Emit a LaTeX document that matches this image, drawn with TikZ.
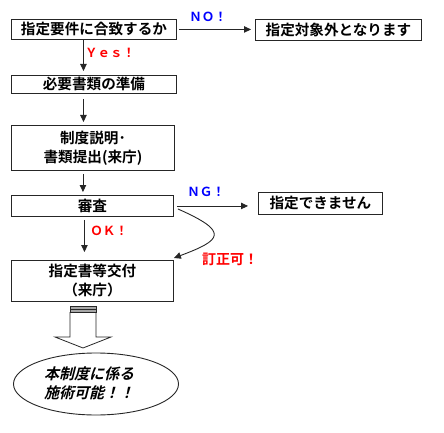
\documentclass[tikz,border=0pt]{standalone}
\usepackage{fontspec}
\setmainfont{Noto Sans CJK JP}[BoldFont={Noto Sans CJK JP Bold}]
\newfontfamily\jpit{Noto Sans CJK JP Bold}[FakeSlant=0.25]
\usetikzlibrary{arrows.meta,shapes.geometric}
\definecolor{lblue}{RGB}{0,0,255}
\definecolor{lred}{RGB}{255,0,0}
\tikzset{
  box/.style={draw=black!85, line width=0.9pt, inner sep=0pt, anchor=north west,
    font=\fontsize{14.6}{19}\selectfont\bfseries, align=center},
  arr/.style={draw=black!85, line width=0.9pt, -{Triangle[length=7pt,width=6.5pt]}},
  lblb/.style={text=lblue, font=\fontsize{12.5}{14}\selectfont\bfseries},
  lblr/.style={text=lred, font=\fontsize{12.5}{14}\selectfont\bfseries},
  lblj/.style={text=lred, font=\fontsize{14}{16}\selectfont\bfseries},
}
\begin{document}
\begin{tikzpicture}[x=1pt,y=-1pt]
\useasboundingbox (0,0) rectangle (444,433);
% boxes
\node[box, minimum width=165pt, minimum height=20pt] (n1) at (11,19) {指定要件に合致するか};
\node[box, minimum width=166pt, minimum height=21pt] (n2) at (255,19) {指定対象外となります};
\node[box, minimum width=165pt, minimum height=18pt] (n3) at (11,75) {必要書類の準備};
\node[box, minimum width=163pt, minimum height=45pt] (n4) at (11,125) {制度説明･\\書類提出(来庁)};
\node[box, minimum width=162pt, minimum height=21pt] (n5) at (11,195) {審査};
\node[box, minimum width=124pt, minimum height=22pt] (n7) at (258,192) {指定できません};
\node[box, minimum width=162pt, minimum height=41pt] (n6) at (11,260) {指定書等交付\\（来庁）};
\node[ellipse, draw=black!85, line width=0.9pt, minimum width=165pt, minimum height=62pt,
  inner sep=0pt, font=\fontsize{15}{19}\selectfont\jpit, align=left] (e) at (96,384) {};
\node[font=\fontsize{15}{19}\selectfont\jpit, align=left, inner sep=0pt] (et) at (89,383) {本制度に係る\\施術可能！！};
% connectors
\draw[arr, shorten <=2pt, shorten >=4pt] (n1.east) -- (n1.east -| n2.west);
\draw[arr, shorten >=4pt] ([xshift=-10.5pt]n1.south) -- ([xshift=-10.5pt]n1.south |- n3.north);
\draw[arr, shorten <=5pt, shorten >=3pt] ([xshift=-10.5pt]n3.south) -- ([xshift=-10.5pt]n3.south |- n4.north);
\draw[arr, shorten <=3pt, shorten >=3pt] ([xshift=-10pt]n4.south) -- ([xshift=-10pt]n4.south |- n5.north);
\draw[arr, shorten <=3pt, shorten >=8pt] ([xshift=-8pt]n5.south) -- ([xshift=-8pt]n5.south |- n6.north);
\draw[arr, shorten <=3pt, shorten >=10pt] (n5.east) -- (n5.east -| n7.west);
\coordinate (cs) at ([shift={(4pt,-3pt)}]n5.east);
\coordinate (ce) at ([yshift=2pt]n6.north east);
\draw[arr] (cs) .. controls (230,232) and (222,240) .. (ce);
% labels
\node[lblb] (lno) at (208,17) {ＮＯ！};
\node[lblr] (lyes) at (110,53) {Ｙｅｓ！};
\node[lblb] (lng) at (206,192) {ＮＧ！};
\node[lblr] (lok) at (109,231) {ＯＫ！};
\node[lblj] (lfix) at (230,259) {訂正可！};
% block arrow
\fill[black!35] (70,306) rectangle (96,312);
\draw[draw=black!85, line width=0.8pt, fill=white] (70,312) -- (70,337) -- (55,337) -- (83,348) -- (111,337) -- (96,337) -- (96,312);
\draw[draw=black!85, line width=0.8pt] (70,306) rectangle (96,312);
\draw[draw=black!85, line width=0.6pt] (70,309.5) -- (96,309.5);
\end{tikzpicture}
\end{document}
